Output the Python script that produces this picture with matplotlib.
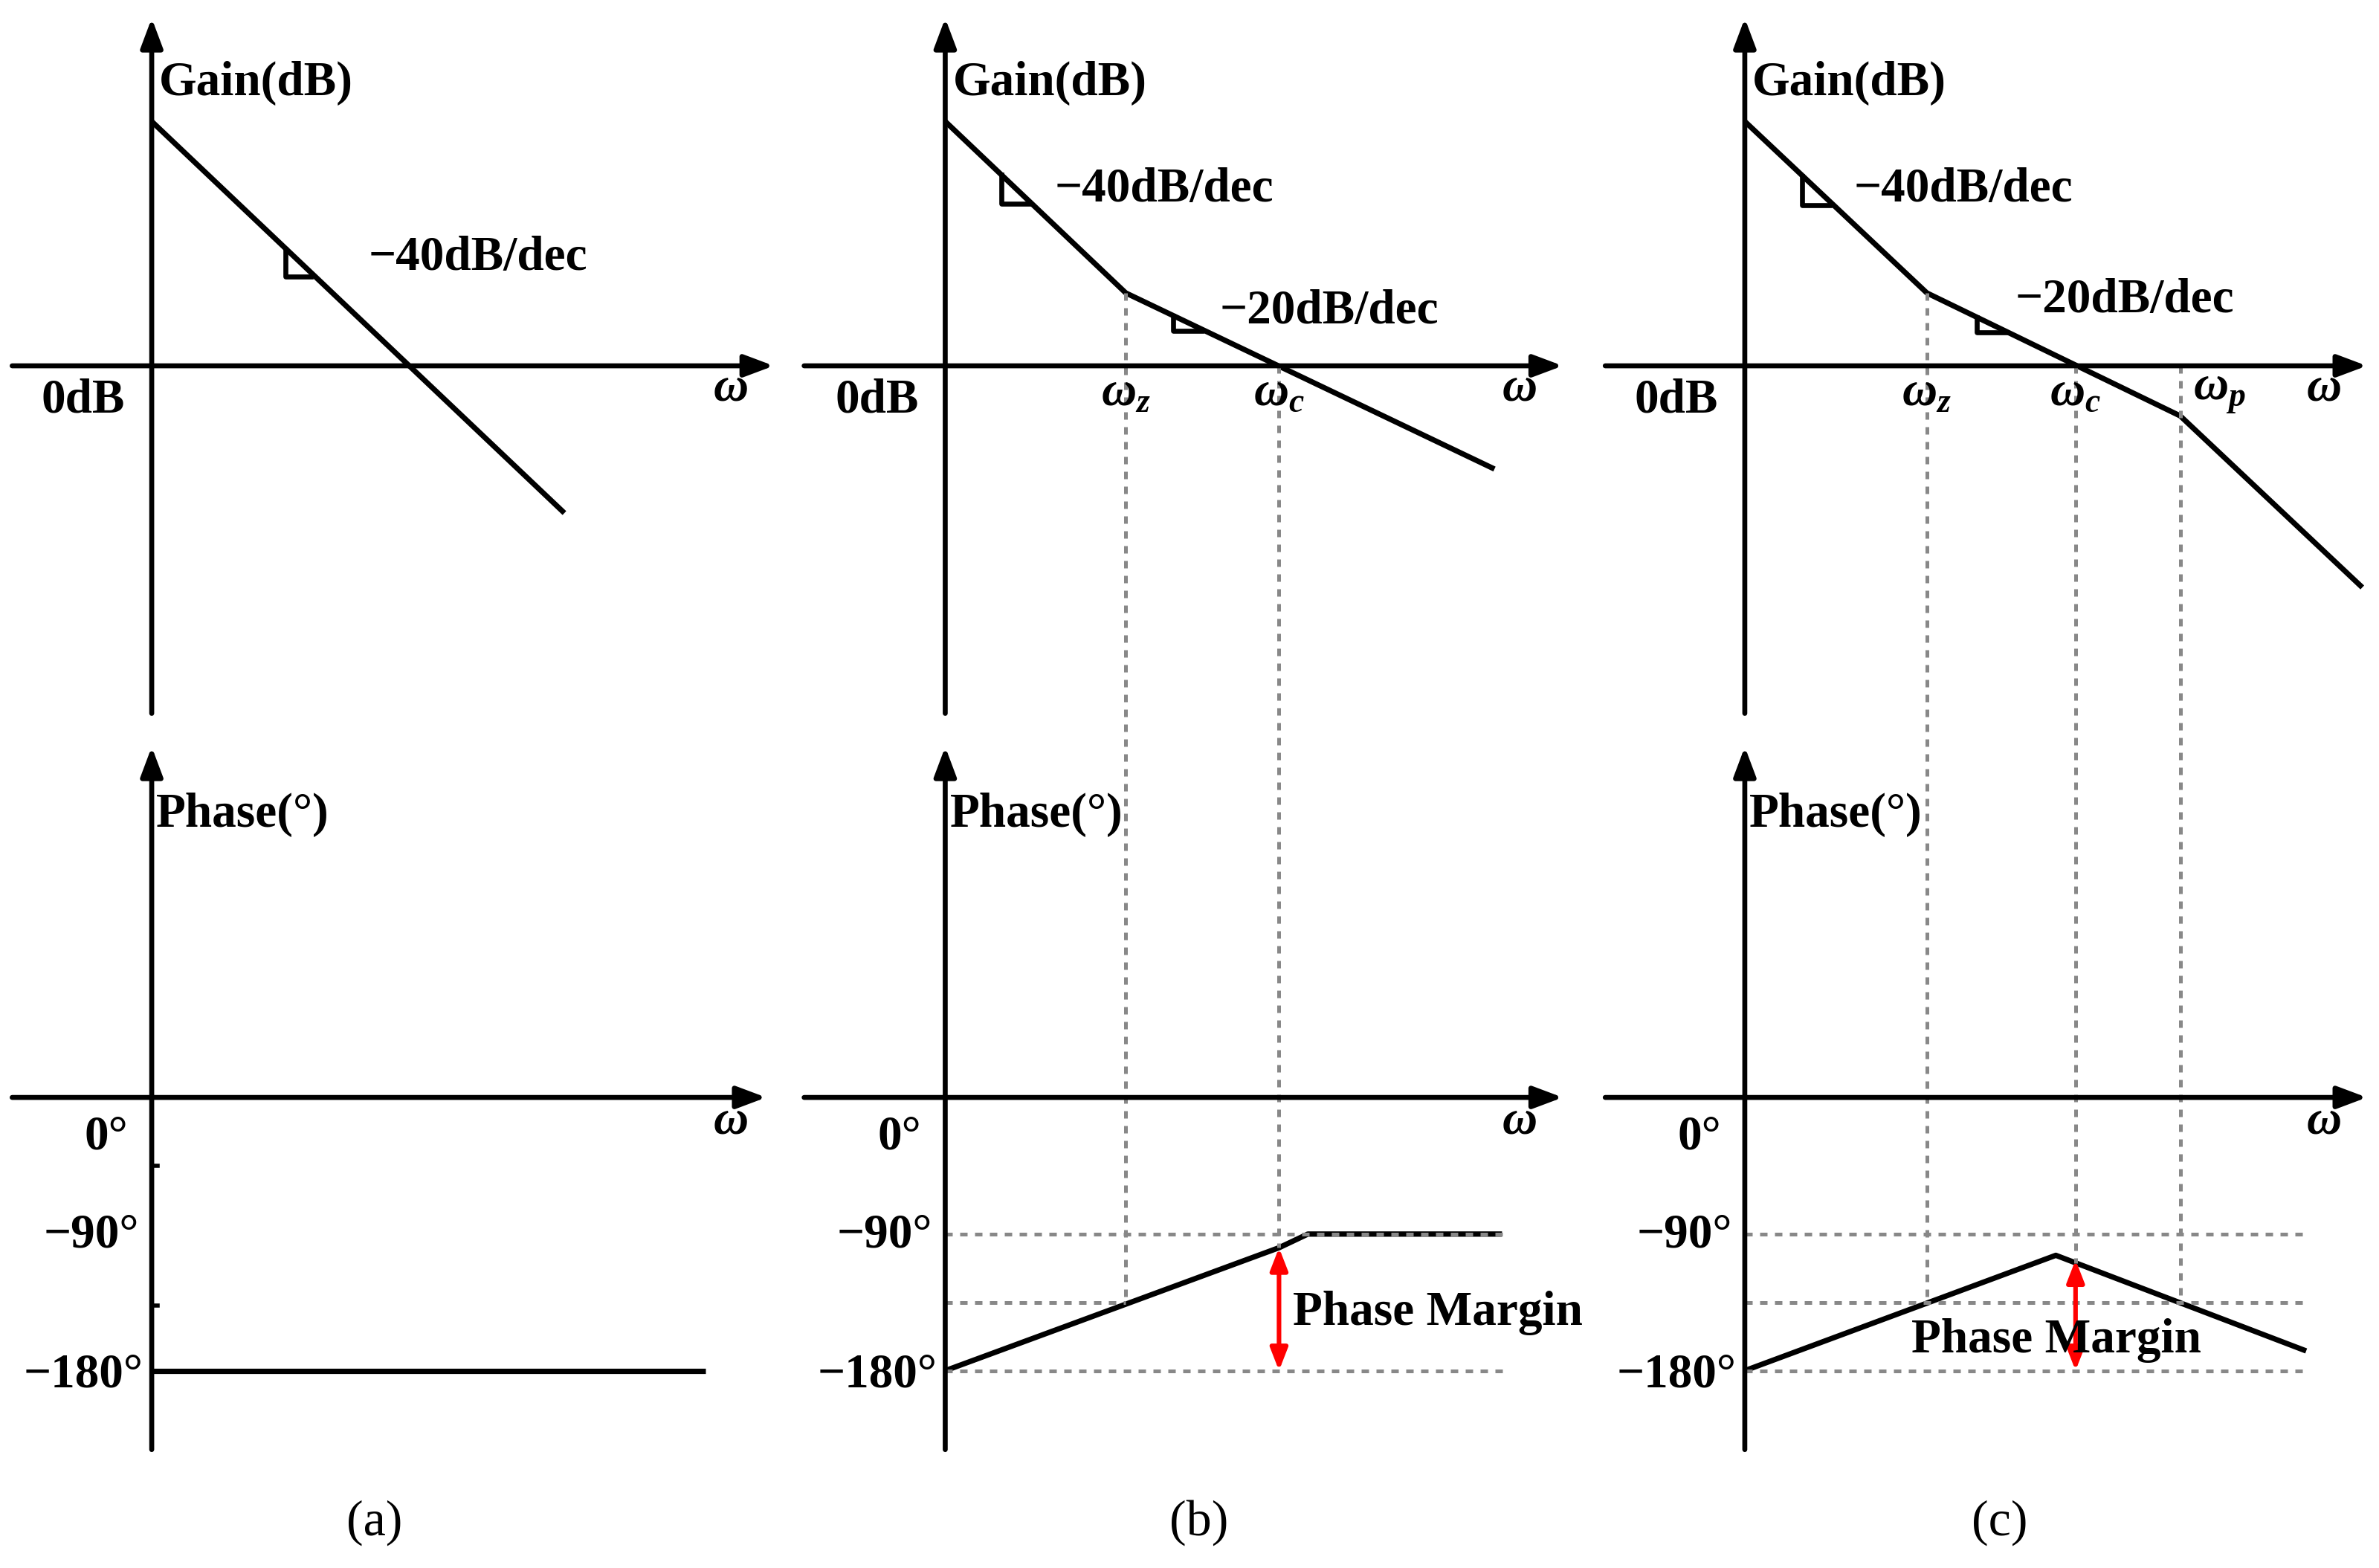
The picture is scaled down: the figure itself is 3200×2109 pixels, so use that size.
import matplotlib
matplotlib.use("Agg")
import matplotlib.pyplot as plt

plt.rcParams['mathtext.fontset'] = 'custom'
plt.rcParams['mathtext.it'] = 'Liberation Serif:italic:bold'
plt.rcParams['mathtext.rm'] = 'Liberation Serif:bold'

W, H = 1568, 1033
FONT = ['Liberation Serif', 'DejaVu Serif']
fs = 23.5

axis_x = [100, 623, 1150]
xaxis_start = [8, 530, 1058]
xaxis_end = [510, 1030, 1560]
gain_y, phase_y = 241, 723
gain_top, gain_bot = 12, 470
phase_top, phase_bot = 492, 955
y90, ymid, y180 = 813, 858, 903

gain_lines = [
    ([100, 372], [80, 338]),
    ([623, 742, 985], [80, 193, 309]),
    ([1150, 1270, 1437, 1557], [80, 193, 274, 387]),
]
phase_lines = [
    ([100, 465], [903, 903]),
    ([623, 843, 862, 990], [903, 822, 813, 813]),
    ([1150, 1355, 1520], [903, 827, 890]),
]
slope_labels = [
    [(243, 170, '−40dB/dec')],
    [(695, 125, '−40dB/dec'), (804, 205, '−20dB/dec')],
    [(1222, 125, '−40dB/dec'), (1328, 198, '−20dB/dec')],
]
slope_marks = [
    (188, 164, 205, 182),
    (660, 115, 679, 134),
    (773, 208, 792, 218),
    (1188, 116, 1206, 135),
    (1303, 209, 1322, 219),
]
freq_labels = [
    [],
    [(742, 'z'), (843, 'c')],
    [(1270, 'z'), (1368, 'c'), (1463, 'p')],
]

fig = plt.figure(figsize=(16, 2109 / 200), dpi=200)
ax = fig.add_axes([0, 0, 1, 1])
ax.set_xlim(0, W)
ax.set_ylim(H, 0)
ax.axis('off')

def arrow(x0, y0, x1, y1):
    ax.annotate('', xy=(x1, y1), xytext=(x0, y0),
                arrowprops=dict(arrowstyle='-|>,head_length=1.2,head_width=0.45',
                                lw=2.4, color='black', shrinkA=0, shrinkB=0))

def txt(x, y, s, **kw):
    ax.text(x, y, s, fontsize=fs, family=FONT, fontweight='bold', va='center', **kw)

dash = dict(color='#888888', lw=1.8, ls=(0, (2, 2)))
for i in range(3):
    ax0 = axis_x[i]
    arrow(ax0, gain_bot, ax0, gain_top)
    arrow(xaxis_start[i], gain_y, xaxis_end[i], gain_y)
    arrow(ax0, phase_bot, ax0, phase_top)
    arrow(xaxis_start[i], phase_y, xaxis_end[i] - 5 * (i == 0), phase_y)
    txt(ax0 + 5, 55, 'Gain(dB)')
    txt(ax0 + 3, 537, 'Phase(°)')
    txt(ax0 - 45, 264, '0dB', ha='center')
    txt(ax0 - 30, 749, '0°', ha='center')
    txt(ax0 - 40, 814, '−90°', ha='center')
    txt(ax0 - 45, 906, '−180°', ha='center')
    ax.text(xaxis_end[i] - 40, 255, r'$\omega$', fontsize=fs, va='center')
    ax.text(xaxis_end[i] - 40, 738, r'$\omega$', fontsize=fs, va='center')
    gx, gy = gain_lines[i]
    ax.plot(gx, gy, color='black', lw=2.6, solid_capstyle='butt')
    px, py = phase_lines[i]
    ax.plot(px, py, color='black', lw=2.6, solid_capstyle='butt')
    for (x, y, s) in slope_labels[i]:
        txt(x, y, s)
    for (x, sub) in freq_labels[i]:
        ax.text(x, 258, r'$\omega_{%s}$' % sub, fontsize=fs,
                ha='center', va='center')

for (x0, y0, x1, y1) in slope_marks:
    ax.plot([x0, x0, x1], [y0, y1, y1], color='black', lw=2.4)

ax.plot([100, 104], [768, 768], color='black', lw=2)
ax.plot([100, 104], [860, 860], color='black', lw=2)

ax.plot([623, 995], [y90, y90], **dash)
ax.plot([623, 742], [ymid, ymid], **dash)
ax.plot([623, 995], [y180, y180], **dash)
ax.plot([742, 742], [193, ymid], **dash)
ax.plot([843, 843], [241, 822], **dash)
ax.plot([1150, 1520], [y90, y90], **dash)
ax.plot([1150, 1520], [ymid, ymid], **dash)
ax.plot([1150, 1520], [y180, y180], **dash)
ax.plot([1270, 1270], [193, ymid], **dash)
ax.plot([1368, 1368], [241, 832], **dash)
ax.plot([1437, 1437], [241, ymid], **dash)

red = dict(arrowstyle='<|-|>,head_length=0.9,head_width=0.35', lw=2.2, color='red',
           shrinkA=0, shrinkB=0)
ax.annotate('', xy=(843, 822), xytext=(843, 903), arrowprops=red)
ax.annotate('', xy=(1368, 830), xytext=(1368, 903), arrowprops=red)
txt(852, 865, 'Phase Margin')
txt(1260, 883, 'Phase Margin')

for x, s in zip([247, 790, 1318], ['(a)', '(b)', '(c)']):
    ax.text(x, 1003, s, fontsize=fs + 1, family=FONT, ha='center', va='center')

fig.savefig('out.png', dpi=200, facecolor='white')
